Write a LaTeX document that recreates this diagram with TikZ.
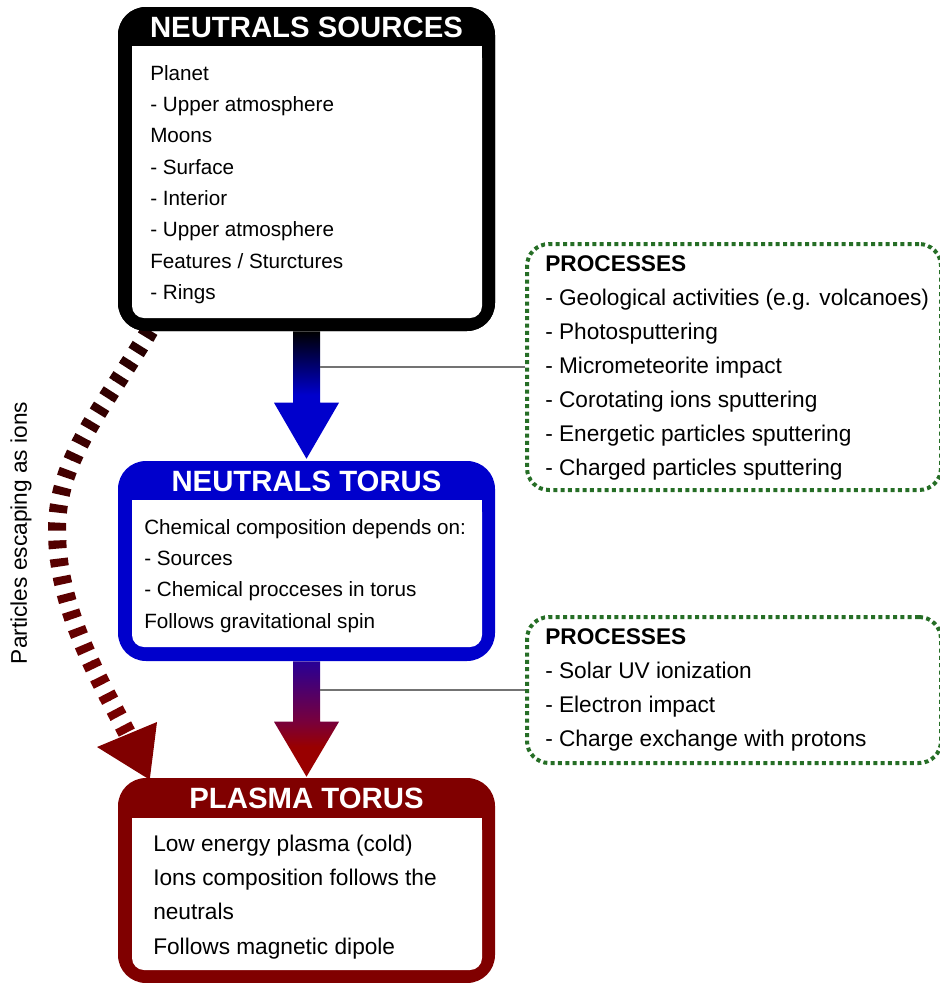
\documentclass[tikz,border=0pt]{standalone}
\usepackage{fontspec}
\setmainfont{Liberation Sans}
\usetikzlibrary{calc}
\definecolor{nblue}{RGB}{0,0,204}
\definecolor{pred}{RGB}{128,0,0}
\definecolor{hred}{RGB}{153,0,0}
\definecolor{topviolet}{RGB}{40,0,150}
\definecolor{midviolet}{RGB}{120,0,60}
\definecolor{pgreen}{RGB}{38,110,38}
\definecolor{lgray}{RGB}{115,115,115}
\pgfdeclareverticalshading{arrowtwo}{100bp}{color(0bp)=(hred); color(25bp)=(hred); color(38bp)=(hred); color(49bp)=(midviolet); color(75bp)=(topviolet); color(100bp)=(topviolet)}
\begin{document}
\begin{tikzpicture}[x=0.75pt,y=-0.75pt,
  outerbox/.style={rectangle, rounded corners=21pt, inner sep=0pt, draw=none, minimum width=282.75pt},
  titletext/.style={text=white, font=\bfseries\fontsize{22}{26}\selectfont, inner sep=0pt},
  smalltext/.style={anchor=north west, align=left, inner sep=0pt, font=\fontsize{15.5}{23.5}\selectfont},
  bigtext/.style={anchor=north west, align=left, inner sep=0pt, font=\fontsize{17}{25.6}\selectfont},
  procbox/.style={rectangle, rounded corners=16.5pt, draw=pgreen, line width=3pt, dash pattern=on 3pt off 2.5pt, minimum width=310.5pt, inner sep=0pt},
  link/.style={draw=lgray, line width=1.2pt},
  esc/.style={line width=13.5pt, dash pattern=on 6pt off 7.5pt}]
\useasboundingbox (0,0) rectangle (940,983);

% box frames (named nodes)
\node[outerbox, fill=black, minimum height=243pt] (src) at (306.5,169) {};
\node[outerbox, fill=nblue, minimum height=150pt] (ntorus) at (306.5,561) {};
\node[outerbox, fill=pred, minimum height=153.75pt] (ptorus) at (306.5,880.5) {};

% escaping particles (dashed curved arrow, drawn in colour bands)
\coordinate (escA) at ($(src.south west)+(32,-1)$);
\coordinate (escB) at (128,735);
\coordinate (esctip) at ($(ptorus.north west)+(32,2)$);
\foreach \i in {0,...,21}{
  \pgfmathtruncatemacro{\ya}{320+20*\i}
  \pgfmathtruncatemacro{\pc}{28+72*\i/21}
  \begin{scope}
    \clip (0,\ya) rectangle (230,\ya+20.5);
    \draw[esc, draw=pred!\pc!black] (escA) .. controls (100,413) and (57,460) .. (57,530) .. controls (57,610) and (100,680) .. (escB);
  \end{scope}
}
\fill[pred] (97,747) -- (157,722) -- (esctip) -- cycle;

% redraw frame above the dashed arrow start
\node[outerbox, fill=black, minimum height=243pt] at (src.center) {};

% inner white areas
\fill[white, rounded corners=9pt] (132,46) rectangle (482,318);
\fill[white] (132,46) rectangle (482,80);
\fill[white, rounded corners=9pt] (132,500) rectangle (482,647);
\fill[white] (132,500) rectangle (482,530);
\fill[white, rounded corners=9pt] (132,818) rectangle (482,970);
\fill[white] (132,818) rectangle (482,850);

% titles
\node[titletext] (srctitle) at (306.5,27) {NEUTRALS SOURCES};
\node[titletext] (ntorustitle) at (306.5,481) {NEUTRALS TORUS};
\node[titletext] (ptorustitle) at (306.5,798) {PLASMA TORUS};

% contents
\node[smalltext] (srctext) at (150,65) {Planet\\- Upper atmosphere\\Moons\\- Surface\\- Interior\\- Upper atmosphere\\Features / Sturctures\\- Rings};
\node[smalltext] (ntorustext) at (144,519) {Chemical composition depends on:\\- Sources\\- Chemical procceses in torus\\Follows gravitational spin};
\node[bigtext] (ptorustext) at (153,835) {Low energy plasma (cold)\\Ions composition follows the\\neutrals\\Follows magnetic dipole};

% process boxes
\node[procbox, minimum height=184.5pt] (p1) at (734,367) {};
\node[procbox, minimum height=109.5pt] (p2) at (734,690) {};
\node[bigtext] (p1text) at (545,255) {\textbf{PROCESSES}\\- Geological activities (e.g. volcanoes)\\- Photosputtering\\- Micrometeorite impact\\- Corotating ions sputtering\\- Energetic particles sputtering\\- Charged particles sputtering};
\node[bigtext] (p2text) at (545,628) {\textbf{PROCESSES}\\- Solar UV ionization\\- Electron impact\\- Charge exchange with protons};

% main arrows
\shade[top color=black, bottom color=nblue, middle color=nblue]
  ($(src.south)+(-13.5,0)$) -- ($(src.south)+(13.5,0)$) -- ($(ntorus.north)+(13.5,-58)$) -- ($(ntorus.north)+(32.5,-58)$) -- ($(ntorus.north)+(0,-2)$) -- ($(ntorus.north)+(-32.5,-58)$) -- ($(ntorus.north)+(-13.5,-58)$) -- cycle;
\shade[shading=arrowtwo]
  ($(ntorus.south)+(-13.5,0)$) -- ($(ntorus.south)+(13.5,0)$) -- ($(ptorus.north)+(13.5,-56)$) -- ($(ptorus.north)+(32.5,-56)$) -- ($(ptorus.north)+(0,-1)$) -- ($(ptorus.north)+(-32.5,-56)$) -- ($(ptorus.north)+(-13.5,-56)$) -- cycle;

% links to process boxes
\coordinate (a1mid) at ($(src.south)+(13.5,36)$);
\coordinate (a2mid) at ($(ntorus.south)+(13.5,28)$);
\draw[link] (p1.west) -- (a1mid |- p1.west);
\draw[link] (p2.west) -- (a2mid |- p2.west);

% side label
\node[rotate=90, font=\fontsize{17}{20}\selectfont, inner sep=0pt] (esclabel) at (21,533) {Particles escaping as ions};
\end{tikzpicture}
\end{document}
